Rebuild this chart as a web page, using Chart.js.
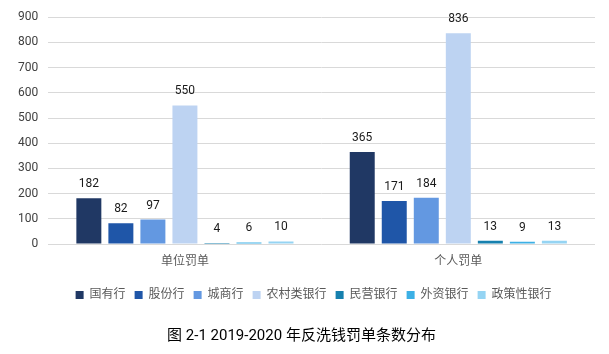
<!DOCTYPE html>
<html>
<head>
<meta charset="utf-8">
<script src="https://cdn.jsdelivr.net/npm/chart.js@4"></script>
<style>
  html, body { margin: 0; padding: 0; background: #fff; }
  #wrap { width: 609px; height: 354px; }
</style>
</head>
<body>
<div id="wrap"><canvas id="chart10" width="609" height="354"></canvas></div>
<script>
const categories = ['单位罚单', '个人罚单']
const seriesNames = ['国有行', '股份行', '城商行', '农村类银行', '民营银行', '外资银行', '政策性银行']
const guoyou = [182, 365]
const gufen = [82, 171]
const chengshang = [97, 184]
const nongcun = [550, 836]
const minying = [4, 13]
const waizi = [6, 9]
const zhengce = [10, 13]
const yTicks = [0, 100, 200, 300, 400, 500, 600, 700, 800, 900]
const titleText = '图 2-1 2019-2020 年反洗钱罚单条数分布'

const colores = ['#203864', '#1f56a8', '#6398e1', '#bdd3f2', '#1680ae', '#3cb0e5', '#95d4f3']
const values = [guoyou, gufen, chengshang, nongcun, minying, waizi, zhengce]

const fontFam = "Roboto, 'Noto Sans CJK SC', sans-serif"

// etiquetas encima de cada barra
const barLabels = {
    id: 'barLabels',
    afterDatasetsDraw(chart) {
        const ctx = chart.ctx
        ctx.save()
        ctx.font = '12px ' + fontFam
        ctx.fillStyle = '#1a1a1a'
        ctx.textAlign = 'center'
        ctx.textBaseline = 'bottom'
        chart.data.datasets.forEach((ds, i) => {
            chart.getDatasetMeta(i).data.forEach((bar, j) => {
                ctx.fillText(ds.data[j], bar.x, bar.y - 8)
            })
        })
        ctx.restore()
    }
}

// mover un poco la leyenda a la izquierda
const legendShift = {
    id: 'legendShift',
    afterLayout(chart) {
        chart.legend.left -= 8
        chart.legend.right -= 8
    }
}

const ctx_chart = document.getElementById('chart10').getContext('2d')
new Chart(ctx_chart, {
    type: 'bar',
    data: {
        labels: categories,
        datasets: seriesNames.map((name, i) => ({
            label: name,
            data: values[i],
            backgroundColor: colores[i],
            borderWidth: 0,
            barPercentage: 0.78,
            categoryPercentage: 0.82,
        })),
    },
    options: {
        responsive: false,
        animation: false,
        layout: {
            padding: {top: 10, left: 8, right: 14, bottom: 9}
        },
        plugins: {
            legend: {
                position: 'bottom',
                fullSize: false,
                labels: {
                    boxWidth: 8,
                    boxHeight: 8,
                    padding: 9,
                    color: '#595959',
                    font: {family: fontFam, size: 12},
                },
            },
            title: {
                display: true,
                position: 'bottom',
                text: titleText,
                color: '#000',
                font: {family: fontFam, size: 15, weight: 'normal'},
                padding: {top: 16, bottom: 0},
            },
            tooltip: {enabled: false},
        },
        scales: {
            x: {
                grid: {display: false, drawTicks: false},
                border: {display: false},
                ticks: {color: '#595959', font: {family: fontFam, size: 12}, padding: 11},
                afterFit: axis => { axis.height = 36 },
            },
            y: {
                min: 0,
                max: 900,
                afterBuildTicks: axis => { axis.ticks = yTicks.map(v => ({value: v})) },
                grid: {color: '#d9d9d9', drawTicks: false},
                border: {display: false},
                ticks: {color: '#404040', font: {family: fontFam, size: 12}, padding: 10},
            },
        },
    },
    plugins: [barLabels, legendShift],
})
</script>
</body>
</html>
